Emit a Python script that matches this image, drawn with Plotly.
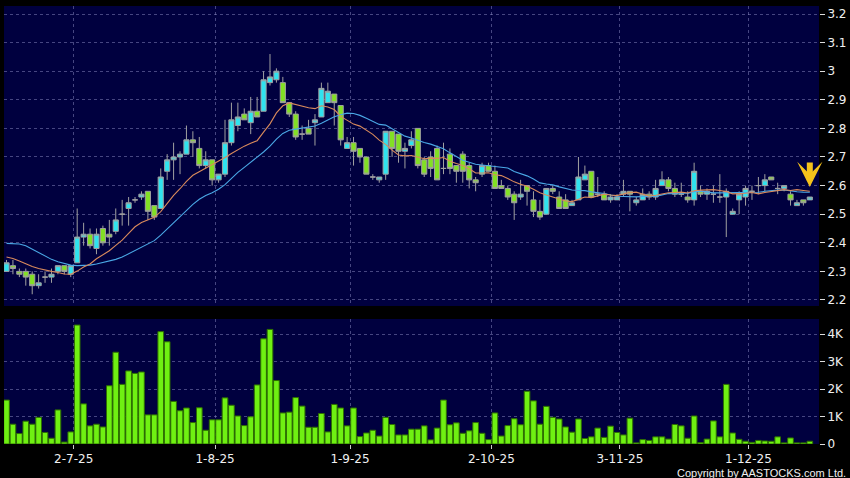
import plotly.graph_objects as go
import pandas as pd

# trading-day index (0 = 2 Jul 2025)
day_idx = list(range(-10, 116))
tick_idx = [0, 22, 43, 65, 85, 105]
tick_labels = ["2-7-25", "1-8-25", "1-9-25", "2-10-25", "3-11-25", "1-12-25"]

opens = [2.30, 2.32, 2.30, 2.30, 2.29, 2.25, 2.28, 2.28, 2.30, 2.32,
         2.29, 2.33, 2.42, 2.43, 2.38, 2.45, 2.43, 2.44, 2.50, 2.52,
         2.55, 2.56, 2.58, 2.53, 2.52, 2.65, 2.69, 2.70, 2.71, 2.76,
         2.73, 2.67, 2.69, 2.62, 2.64, 2.75, 2.81, 2.85, 2.82, 2.86,
         2.86, 2.96, 2.97, 2.96, 2.89, 2.85, 2.78, 2.80, 2.82, 2.84,
         2.89, 2.92, 2.88, 2.73, 2.75, 2.73, 2.70, 2.63, 2.62, 2.64,
         2.79, 2.78, 2.72, 2.74, 2.80, 2.69, 2.70, 2.73, 2.66, 2.71,
         2.67, 2.71, 2.67, 2.62, 2.64, 2.67, 2.65, 2.60, 2.59, 2.57,
         2.56, 2.60, 2.55, 2.51, 2.50, 2.59, 2.56, 2.55, 2.53, 2.55,
         2.62, 2.65, 2.57, 2.57, 2.55, 2.55, 2.57, 2.58, 2.54, 2.55,
         2.57, 2.56, 2.60, 2.62, 2.59, 2.57, 2.56, 2.55, 2.58, 2.57,
         2.57, 2.56, 2.56, 2.50, 2.55, 2.56, 2.58, 2.60, 2.60, 2.63,
         2.59, 2.59, 2.57, 2.53, 2.55, 2.55]
highs = [2.34, 2.34, 2.31, 2.31, 2.30, 2.29, 2.30, 2.31, 2.32, 2.32,
         2.32, 2.52, 2.47, 2.45, 2.45, 2.46, 2.48, 2.52, 2.55, 2.56,
         2.56, 2.58, 2.58, 2.53, 2.66, 2.71, 2.75, 2.72, 2.81, 2.79,
         2.77, 2.72, 2.69, 2.64, 2.83, 2.89, 2.89, 2.87, 2.91, 2.91,
         3.00, 3.06, 3.01, 2.98, 2.89, 2.86, 2.81, 2.83, 2.85, 2.96,
         2.96, 2.92, 2.88, 2.77, 2.77, 2.73, 2.70, 2.64, 2.63, 2.79,
         2.79, 2.78, 2.75, 2.79, 2.80, 2.70, 2.72, 2.74, 2.75, 2.73,
         2.67, 2.72, 2.68, 2.63, 2.68, 2.68, 2.67, 2.62, 2.60, 2.58,
         2.62, 2.60, 2.58, 2.55, 2.59, 2.60, 2.58, 2.57, 2.55, 2.70,
         2.67, 2.65, 2.63, 2.58, 2.57, 2.57, 2.62, 2.58, 2.56, 2.59,
         2.58, 2.62, 2.65, 2.63, 2.61, 2.61, 2.58, 2.68, 2.60, 2.59,
         2.60, 2.64, 2.59, 2.52, 2.58, 2.60, 2.60, 2.63, 2.64, 2.63,
         2.61, 2.60, 2.58, 2.55, 2.55, 2.56]
lows = [2.30, 2.29, 2.28, 2.25, 2.22, 2.24, 2.26, 2.26, 2.29, 2.29,
        2.28, 2.33, 2.39, 2.38, 2.36, 2.39, 2.39, 2.43, 2.46, 2.46,
        2.54, 2.55, 2.48, 2.48, 2.52, 2.62, 2.62, 2.64, 2.71, 2.70,
        2.66, 2.66, 2.60, 2.61, 2.63, 2.74, 2.79, 2.83, 2.78, 2.84,
        2.86, 2.95, 2.96, 2.89, 2.84, 2.76, 2.76, 2.78, 2.74, 2.84,
        2.89, 2.81, 2.74, 2.73, 2.67, 2.68, 2.64, 2.62, 2.61, 2.62,
        2.70, 2.68, 2.66, 2.73, 2.66, 2.63, 2.63, 2.62, 2.64, 2.64,
        2.61, 2.61, 2.59, 2.58, 2.63, 2.65, 2.59, 2.59, 2.55, 2.48,
        2.55, 2.53, 2.49, 2.48, 2.50, 2.57, 2.52, 2.52, 2.53, 2.55,
        2.62, 2.56, 2.56, 2.55, 2.54, 2.55, 2.56, 2.51, 2.53, 2.55,
        2.55, 2.55, 2.60, 2.58, 2.56, 2.56, 2.54, 2.53, 2.56, 2.55,
        2.54, 2.54, 2.42, 2.50, 2.50, 2.53, 2.55, 2.57, 2.58, 2.62,
        2.57, 2.58, 2.53, 2.53, 2.53, 2.55]
closes = [2.33, 2.31, 2.29, 2.28, 2.25, 2.26, 2.28, 2.29, 2.32, 2.30,
          2.32, 2.42, 2.43, 2.39, 2.43, 2.40, 2.42, 2.48, 2.50, 2.54,
          2.55, 2.57, 2.51, 2.49, 2.63, 2.69, 2.70, 2.71, 2.76, 2.75,
          2.67, 2.69, 2.62, 2.64, 2.75, 2.83, 2.84, 2.83, 2.86, 2.84,
          2.97, 2.98, 3.00, 2.89, 2.85, 2.77, 2.78, 2.78, 2.83, 2.94,
          2.93, 2.89, 2.76, 2.75, 2.72, 2.70, 2.64, 2.63, 2.63, 2.79,
          2.73, 2.72, 2.73, 2.76, 2.67, 2.64, 2.66, 2.62, 2.66, 2.66,
          2.65, 2.65, 2.62, 2.61, 2.67, 2.65, 2.59, 2.59, 2.56, 2.54,
          2.57, 2.58, 2.51, 2.49, 2.59, 2.58, 2.52, 2.52, 2.54, 2.63,
          2.64, 2.56, 2.57, 2.55, 2.56, 2.56, 2.58, 2.57, 2.55, 2.57,
          2.56, 2.59, 2.62, 2.59, 2.57, 2.57, 2.55, 2.65, 2.57, 2.58,
          2.57, 2.56, 2.58, 2.51, 2.57, 2.59, 2.58, 2.60, 2.62, 2.62,
          2.59, 2.60, 2.55, 2.54, 2.54, 2.56]
# volume in thousands
volume_k = [1.60, 0.72, 0.38, 0.83, 0.72, 0.97, 0.42, 0.21, 1.24, 0.07,
            0.44, 4.33, 1.46, 0.66, 0.72, 0.62, 2.12, 3.34, 2.17, 2.66,
            2.57, 2.62, 1.06, 1.06, 4.09, 3.72, 1.55, 1.21, 1.31, 0.78,
            1.32, 0.50, 0.88, 0.88, 1.68, 1.41, 1.02, 0.67, 0.99, 2.15,
            3.83, 4.17, 2.31, 1.13, 1.16, 1.69, 1.38, 0.61, 0.61, 1.11,
            0.44, 1.44, 1.31, 0.66, 1.31, 0.27, 0.40, 0.50, 0.29, 0.97,
            0.71, 0.33, 0.33, 0.54, 0.54,
            0.66, 0.15, 0.58, 1.60, 0.70, 0.77, 0.39, 0.48, 0.78, 0.39,
            0.16, 1.13, 0.29, 0.67, 0.92, 0.70, 1.92, 1.57, 0.72, 1.37,
            0.97, 0.91, 0.62, 0.43, 0.91, 0.20, 0.26, 0.58, 0.24, 0.65,
            0.42, 0.33, 0.94, 0.04, 0.16, 0.13, 0.26, 0.26, 0.18, 0.71,
            0.66, 0.21, 1.02, 0.05, 0.18, 0.84, 0.26, 2.17, 0.40, 0.17,
            0.10, 0.06, 0.13, 0.11, 0.10, 0.26, 0.04, 0.22, 0.04, 0.04,
            0.10]
ma10_head = [2.350, 2.345, 2.336, 2.326, 2.317, 2.310, 2.304, 2.300, 2.296]
ma20_head = [2.398, 2.398, 2.396, 2.390, 2.378, 2.365, 2.354, 2.342, 2.334, 2.328,
             2.322, 2.320, 2.320, 2.322, 2.326, 2.331, 2.336, 2.342, 2.350]

price_ticks = [2.2, 2.3, 2.4, 2.5, 2.6, 2.7, 2.8, 2.9, 3.0, 3.1, 3.2]
price_tick_text = ["2.2", "2.3", "2.4", "2.5", "2.6", "2.7", "2.8", "2.9", "3", "3.1", "3.2"]
vol_ticks = [0, 1, 2, 3, 4]
vol_tick_text = ["0", "1K", "2K", "3K", "4K"]

cs = pd.Series(closes)
ma10 = cs.rolling(10).mean().tolist()
ma10[:len(ma10_head)] = ma10_head
ma20 = cs.rolling(20).mean().tolist()
ma20[:len(ma20_head)] = ma20_head

GRID = "rgba(140,140,195,0.5)"
DASH = "3px,3px"
FONT = "DejaVu Sans"
TXT = "#f0f0f0"
grid_pos = [t + 0.45 for t in tick_idx]

fig = go.Figure()
fig.add_trace(go.Candlestick(
    x=day_idx, open=opens, high=highs, low=lows, close=closes,
    increasing=dict(fillcolor="#2fe3ef", line=dict(color="#a0a0a0", width=1)),
    decreasing=dict(fillcolor="#82e024", line=dict(color="#a0a0a0", width=1)),
    whiskerwidth=0, xaxis="x", yaxis="y", hoverinfo="skip"))
fig.add_trace(go.Scatter(x=day_idx, y=ma20, mode="lines",
                         line=dict(color="#4aa8e6", width=1.1), xaxis="x", yaxis="y"))
fig.add_trace(go.Scatter(x=day_idx, y=ma10, mode="lines",
                         line=dict(color="#d98a5c", width=1.1), xaxis="x", yaxis="y"))
fig.add_trace(go.Bar(x=day_idx, y=volume_k, marker=dict(color="#6ff012",
                     line=dict(color="#2e7000", width=1)), xaxis="x2", yaxis="y2"))

fig.add_annotation(x=day_idx[-1], y=2.595, xref="x", yref="y", text="",
                   showarrow=True, arrowhead=3, arrowsize=0.7, arrowwidth=6,
                   arrowcolor="#f5c21b", ax=0, ay=-26)
fig.add_annotation(x=1.035, y=-0.066, xref="paper", yref="paper",
                   text="Copyright by AASTOCKS.com Ltd.", showarrow=False,
                   xanchor="right", yanchor="middle",
                   font=dict(family="Liberation Sans", size=11, color=TXT))

xcommon = dict(range=[-10.39, 116.43], tickvals=grid_pos, ticktext=tick_labels,
               showgrid=True, gridcolor=GRID, griddash=DASH, gridwidth=1,
               zeroline=False, showline=False, fixedrange=True)
fig.update_layout(
    width=850, height=478,
    paper_bgcolor="black", plot_bgcolor="#00003f",
    margin=dict(l=4, r=28, t=6, b=34),
    showlegend=False,
    boxgap=0.2, boxgroupgap=0, bargap=0.12,
    font=dict(family=FONT, size=12, color=TXT),
    xaxis=dict(domain=[0, 1], anchor="y", showticklabels=False, ticks="",
               rangeslider=dict(visible=False), **xcommon),
    xaxis2=dict(domain=[0, 1], anchor="y2", matches="x", showticklabels=True,
                ticks="outside", ticklen=4, tickcolor="#cccccc",
                tickfont=dict(family=FONT, size=12, color=TXT), **xcommon),
    yaxis=dict(domain=[0.3151, 1], anchor="x", side="right", range=[2.179, 3.228],
               tickvals=price_ticks, ticktext=price_tick_text,
               ticks="outside", ticklen=5, tickcolor="#dddddd",
               showgrid=True, gridcolor=GRID, griddash=DASH, zeroline=False,
               tickfont=dict(family=FONT, size=12, color=TXT)),
    yaxis2=dict(domain=[0, 0.2854], anchor="x2", side="right", range=[0, 4.55],
                tickvals=vol_ticks, ticktext=vol_tick_text,
                ticks="outside", ticklen=5, tickcolor="#dddddd",
                showgrid=True, gridcolor=GRID, griddash=DASH, zeroline=False,
                tickfont=dict(family=FONT, size=12, color=TXT)),
)
fig.write_html("out.html", config={"displayModeBar": False},
               post_script="document.body.style.margin='0';document.body.style.background='black';")
